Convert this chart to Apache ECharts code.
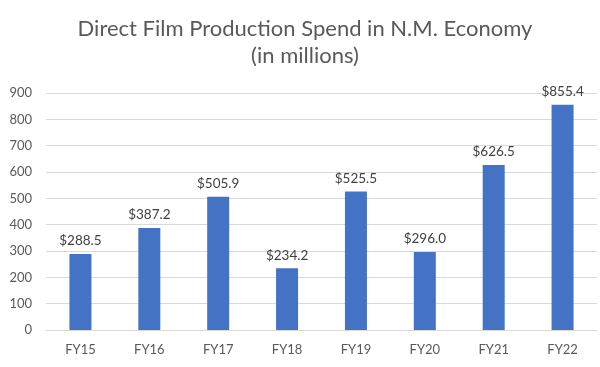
<!DOCTYPE html>
<html><head><meta charset="utf-8">
<script src="https://cdn.jsdelivr.net/npm/echarts@6/dist/echarts.min.js"></script>
<style>html,body{margin:0;padding:0;background:#fff}#c{width:600px;height:367px}</style>
</head><body><div id="c"></div>
<script>
const categories = ['FY15','FY16','FY17','FY18','FY19','FY20','FY21','FY22'];
const values = [288.5, 387.2, 505.9, 234.2, 525.5, 296.0, 626.5, 855.4];
const titleLines = ['Direct Film Production Spend in N.M. Economy', '(in millions)'];
const chart = echarts.init(document.getElementById('c'), null, {renderer:'canvas'});
chart.setOption({
  animation:false,
  title:{text:titleLines.join('\n'), left:300, textAlign:'center', top:10,
    textStyle:{fontFamily:'Lato', fontSize:22, fontWeight:'normal', color:'#595959', lineHeight:27}},
  grid:{left:46, right:3, top:93, bottom:37},
  xAxis:{type:'category', data:categories,
    axisLine:{lineStyle:{color:'#d9d9d9'}}, axisTick:{show:false},
    axisLabel:{color:'#595959', fontFamily:'Lato', fontSize:13, margin:13}},
  yAxis:{type:'value', min:0, max:900, interval:100,
    axisLine:{show:false}, axisTick:{show:false},
    splitLine:{lineStyle:{color:'#d9d9d9'}},
    axisLabel:{color:'#595959', fontFamily:'Lato', fontSize:13, margin:14}},
  series:[{type:'bar', data:values, barWidth:22,
    itemStyle:{color:'#4472C4'},
    label:{show:true, position:'top', distance:6, color:'#404040', fontFamily:'Lato', fontSize:13.5,
      formatter:p=>'$'+p.value.toFixed(1)}}]
});
</script></body></html>
